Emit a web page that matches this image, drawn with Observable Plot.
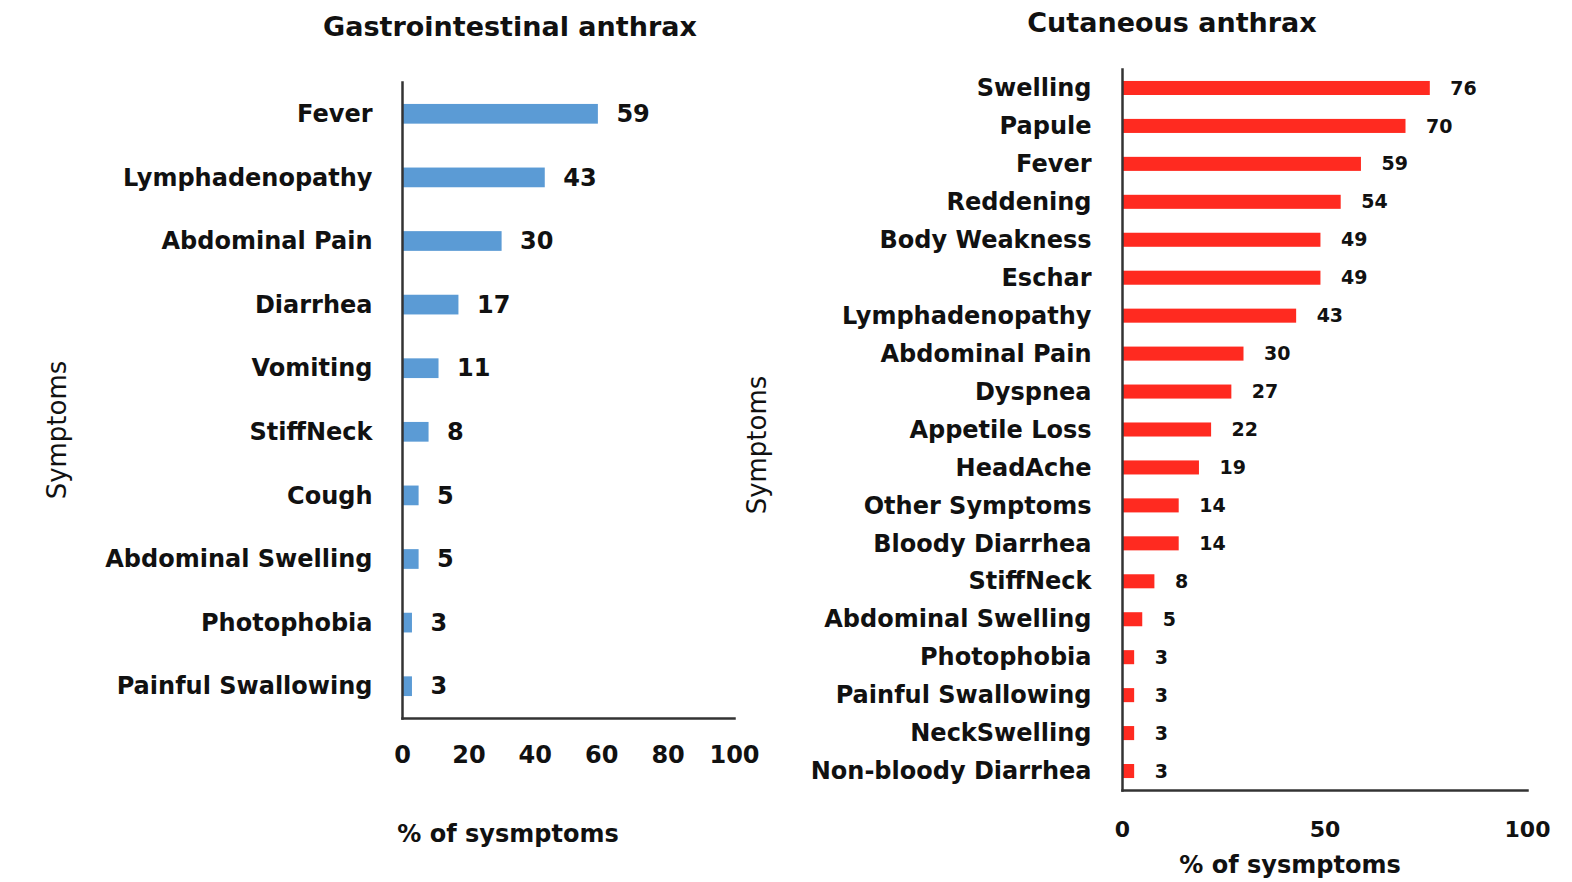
<!DOCTYPE html>
<html>
<head>
<meta charset="utf-8">
<script src="https://cdn.jsdelivr.net/npm/d3@7"></script>
<script src="https://cdn.jsdelivr.net/npm/@observablehq/plot@0.6"></script>
<style>
  html, body { margin: 0; padding: 0; background: #fff; }
  #root { position: relative; width: 1572px; height: 882px; overflow: hidden; font-family: "DejaVu Sans", sans-serif; color: #111; }
  .abs { position: absolute; transform: translate(-50%, -50%); white-space: nowrap; }
  .title { font-weight: bold; font-size: 27px; }
  .xlab { font-weight: bold; font-size: 24px; }
  .ylab { font-size: 26px; transform: translate(-50%, -50%) rotate(-90deg); }
  .panel { position: absolute; top: 0; }
</style>
</head>
<body>
<div id="root">
  <div class="panel" id="left" style="left:0px"></div>
  <div class="panel" id="right" style="left:780px"></div>
  <div class="abs title" style="left:510px; top:26px">Gastrointestinal anthrax</div>
  <div class="abs title" style="left:1172px; top:22px">Cutaneous anthrax</div>
  <div class="abs xlab" style="left:508px; top:834px">% of sysmptoms</div>
  <div class="abs xlab" style="left:1290px; top:865px">% of sysmptoms</div>
  <div class="abs ylab" style="left:57px; top:430px">Symptoms</div>
  <div class="abs ylab" style="left:757px; top:445px">Symptoms</div>
</div>
<script>
const giSymptoms = ["Fever","Lymphadenopathy","Abdominal Pain","Diarrhea","Vomiting","StiffNeck","Cough","Abdominal Swelling","Photophobia","Painful Swallowing"];
const giValues = [59,43,30,17,11,8,5,5,3,3];
const giTicks = [0,20,40,60,80,100];

const cutSymptoms = ["Swelling","Papule","Fever","Reddening","Body Weakness","Eschar","Lymphadenopathy","Abdominal Pain","Dyspnea","Appetile Loss","HeadAche","Other Symptoms","Bloody Diarrhea","StiffNeck","Abdominal Swelling","Photophobia","Painful Swallowing","NeckSwelling","Non-bloody Diarrhea"];
const cutValues = [76,70,59,54,49,49,43,30,27,22,19,14,14,8,5,3,3,3,3];
const cutTicks = [0,50,100];

const giData = giSymptoms.map((s, i) => ({symptom: s, value: giValues[i]}));
const cutData = cutSymptoms.map((s, i) => ({symptom: s, value: cutValues[i]}));

const FONT = "DejaVu Sans";
const AXIS = "#333";

function panel({data, domain, ticks, color, width, height, ml, mr, mt, mb, padInner, tickPad, xTickPad, valFont, valDx, tickFont, xTickFont}) {
  return Plot.plot({
    width, height,
    marginLeft: ml, marginRight: mr, marginTop: mt, marginBottom: mb,
    style: {fontFamily: FONT, color: "#111", background: "#fff", overflow: "visible"},
    x: {domain: [0, 100], label: null},
    y: {domain, label: null, paddingInner: padInner, paddingOuter: padInner / 2, round: false},
    marks: [
      Plot.barX(data, {x: "value", y: "symptom", fill: color}),
      Plot.text(data, {x: "value", y: "symptom", text: d => String(d.value), textAnchor: "start", dx: valDx, fontSize: valFont, fontWeight: "bold", fill: "#111"}),
      Plot.axisY({tickSize: 0, tickPadding: tickPad, fontSize: tickFont, fontWeight: "bold", label: null}),
      Plot.axisX({ticks, tickSize: 0, tickPadding: xTickPad, fontSize: xTickFont, fontWeight: "bold", label: null, tickFormat: d => String(d)}),
      Plot.frame({anchor: "left", stroke: AXIS, strokeWidth: 2.5}),
      Plot.frame({anchor: "bottom", stroke: AXIS, strokeWidth: 2.5})
    ]
  });
}

document.getElementById("left").append(panel({
  data: giData, domain: giSymptoms, ticks: giTicks, color: "#5b9bd5",
  width: 780, height: 882, ml: 402, mr: 46, mt: 82, mb: 164,
  padInner: 0.69, tickPad: 30, xTickPad: 27, valFont: 24, valDx: 18, tickFont: 24, xTickFont: 24
}));

document.getElementById("right").append(panel({
  data: cutData, domain: cutSymptoms, ticks: cutTicks, color: "#ff2a20",
  width: 792, height: 882, ml: 342, mr: 45, mt: 69, mb: 92,
  padInner: 0.63, tickPad: 31, xTickPad: 31, valFont: 19, valDx: 20, tickFont: 24, xTickFont: 22
}));
</script>
</body>
</html>
